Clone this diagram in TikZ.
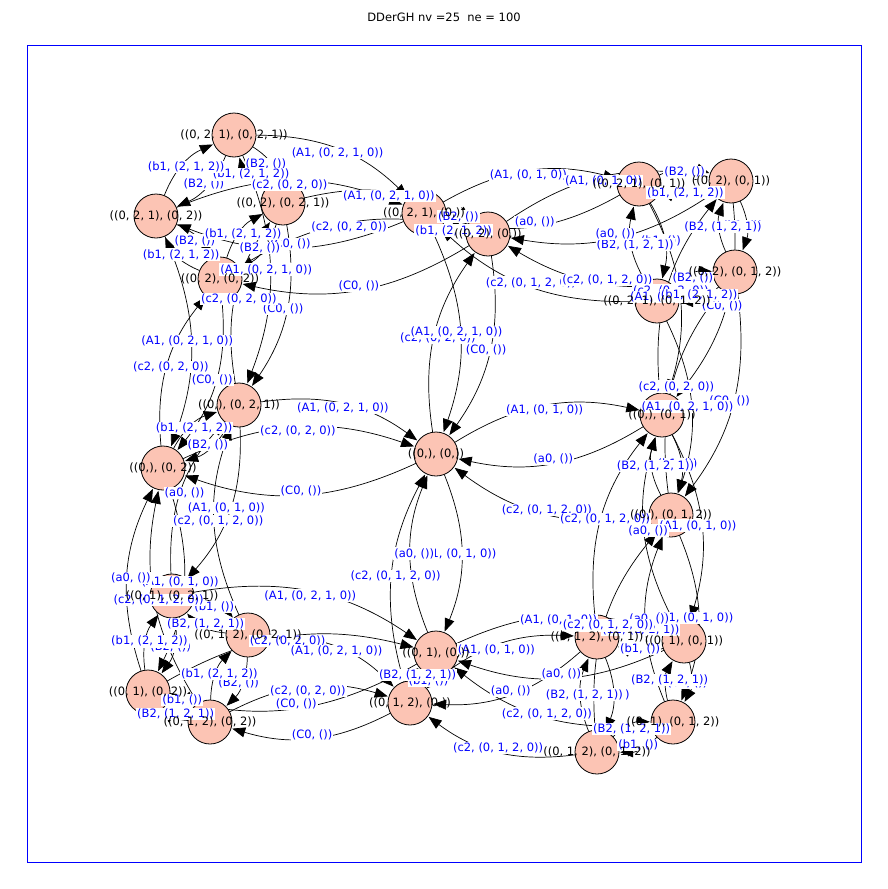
\documentclass[tikz,border=0pt]{standalone}
\usepackage{fontspec}
\setmainfont{DejaVu Sans}
\usetikzlibrary{arrows.meta,calc}
\definecolor{nodefill}{RGB}{252,196,180}
\begin{document}
\begin{tikzpicture}[x=1pt,y=-1pt,
  vert/.style={circle,minimum size=44pt,inner sep=0pt},
  edge/.style={-{Triangle[length=13pt,width=10pt]},line width=0.7pt,shorten >=1pt},
  elab/.style={fill=white,inner sep=1pt,text=blue,font=\fontsize{11.5}{13}\selectfont},
  nlab/.style={font=\fontsize{11.5}{13}\selectfont}]
\useasboundingbox (0,0) rectangle (888,889);
\node[font=\fontsize{11.5}{13}\selectfont] (title) at (444,17) {DDerGH nv =25\ \ ne = 100};
\draw[blue,line width=0.8pt] (27,45) rectangle (861,862);
\def\sA{(0, 2, 1)}\def\sB{(0, 2)}\def\sC{(0,)}\def\sD{(0, 1)}\def\sE{(0, 1, 2)}
\def\lAB{(B2, ())}\def\lBA{(b1, (2, 1, 2))}\def\lBC{(C0, ())}\def\lCB{(c2, (0, 2, 0))}
\def\lAC{(A1, (0, 2, 1, 0))}\def\lCD{(A1, (0, 1, 0))}\def\lDC{(a0, ())}
\def\lEC{(c2, (0, 1, 2, 0))}\def\lDE{(b1, ())}\def\lED{(B2, (1, 2, 1))}
\def\mAB{(B2, ())}\def\mBA{(b1, (2, 1, 2))}\def\mBC{(c2, (0, 2, 0))}\def\mCB{(C0, ())}
\def\mAC{(A1, (0, 2, 1, 0))}\def\mCD{(A1, (0, 1, 0))}\def\mDC{(a0, ())}
\def\mEC{(c2, (0, 1, 2, 0))}\def\mDE{(b1, ())}\def\mED{(B2, (1, 2, 1))}
\def\nodelist{AA/234/135,AB/156/216,BA/283/203,BB/220/279,AC/424/213,BC/488/234,AD/639/184,BD/731/181,BE/735/272,AE/657/301,CA/239/405,CB/163/468,CC/436/454,CD/662/415,CE/671/515,DA/172/596,EA/248/635,DB/148/692,EB/210/722,DC/436/653,EC/410/703,ED/597/637,DD/684/641,DE/673/722,EE/597/752}
\foreach \n/\px/\py in \nodelist { \node[vert] (n\n) at (\px,\py) {}; }
\def\comp{A/B,B/A,B/C,C/B,A/C,C/D,D/C,E/C,D/E,E/D}
\foreach \o in {A,B,C,D,E} {
  \foreach \s/\t in \comp {
    \draw[edge] (n\s\o) to[bend left=22] (n\t\o);
    \draw[edge] (n\o\s) to[bend left=22] (n\o\t);
  }
}
\foreach \n/\px/\py in \nodelist { \draw[fill=nodefill,line width=0.8pt] (\px,\py) circle (22pt); }
\foreach \o in {A,B,C,D,E} {
  \foreach \s/\t in \comp {
    \path (n\s\o.center) to[bend left=22] node[elab,pos=0.5] {\csname l\s\t\endcsname} (n\t\o.center);
    \path (n\o\s.center) to[bend left=22] node[elab,pos=0.5] {\csname m\s\t\endcsname} (n\o\t.center);
  }
}
\foreach \a in {A,B,C,D,E} { \foreach \b in {A,B,C,D,E} {
  \node[nlab] at (n\a\b) {(\csname s\a\endcsname, \csname s\b\endcsname)};
}}
\end{tikzpicture}
\end{document}
